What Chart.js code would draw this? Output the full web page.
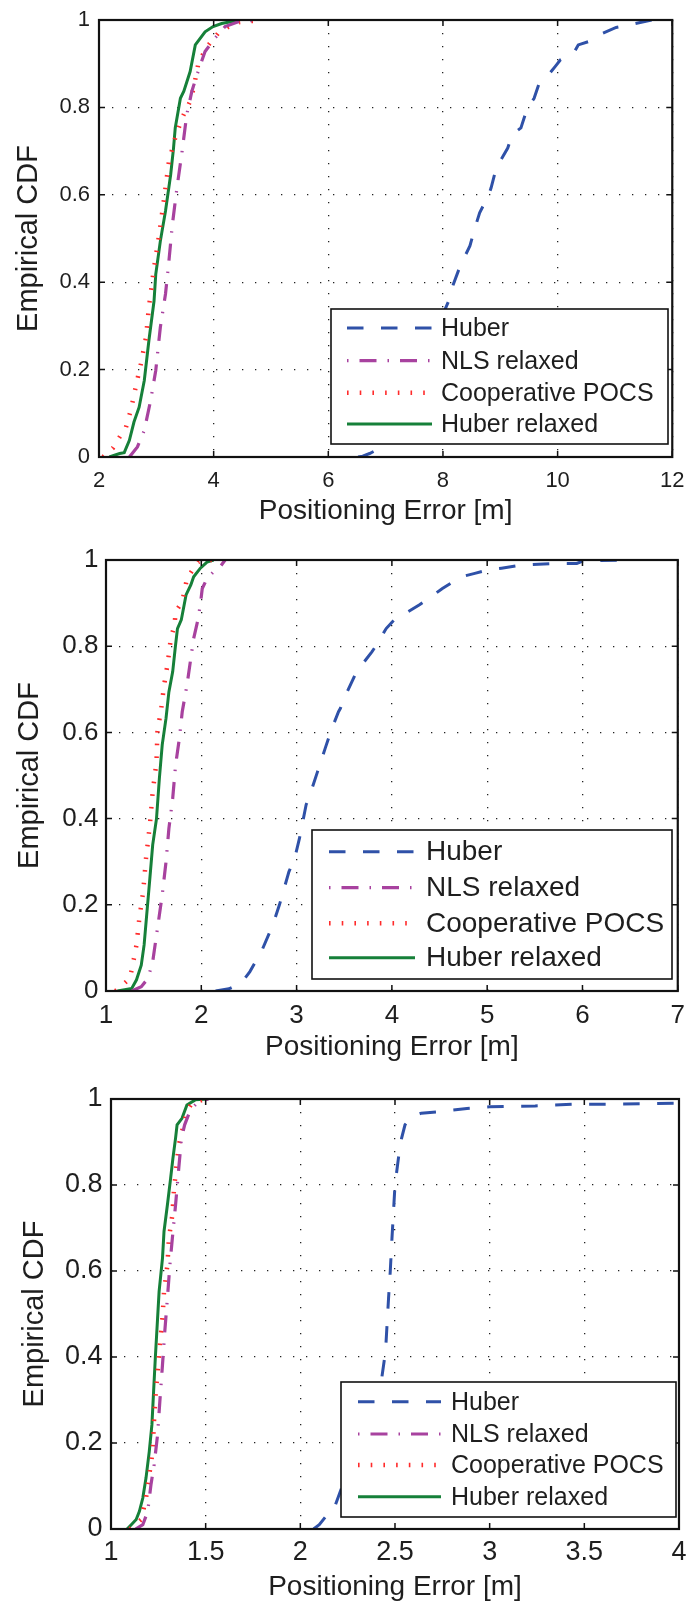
<!DOCTYPE html>
<html><head><meta charset="utf-8">
<script src="https://cdn.jsdelivr.net/npm/chart.js@4.4.1/dist/chart.umd.min.js"></script>
<style>
html,body{margin:0;padding:0;background:#fff;}
#wrap{position:relative;width:697px;height:1604px;overflow:hidden;}
canvas{position:absolute;left:0;}
</style></head><body>
<div id="wrap">
<canvas id="c1" width="697" height="530" style="top:0px"></canvas>
<canvas id="c2" width="697" height="538" style="top:530px"></canvas>
<canvas id="c3" width="697" height="536" style="top:1068px"></canvas>
</div>
<script>
// ---------- DATA ----------
const seriesLabels = ['Huber', 'NLS relaxed', 'Cooperative POCS', 'Huber relaxed'];
const xTitle = 'Positioning Error [m]';
const yTitle = 'Empirical CDF';
const yTicks = [0, 0.2, 0.4, 0.6, 0.8, 1];
const yTickLabels = ['0', '0.2', '0.4', '0.6', '0.8', '1'];

// Panel 1
const p1XTicks = [2, 4, 6, 8, 10, 12];
const p1XTickLabels = ['2', '4', '6', '8', '10', '12'];
const p1HuberX = [6.52, 6.60, 6.72, 7.01, 8.10, 8.18, 8.30, 8.47, 8.56, 8.64, 8.79, 8.84, 8.93, 9.13, 9.21, 9.36, 9.47, 9.59, 9.67, 9.82, 9.96, 10.05, 10.28, 10.36, 10.62, 10.79, 11.02, 11.19, 11.54, 11.65];
const p1HuberY = [0, 0.002, 0.008, 0.027, 0.357, 0.395, 0.437, 0.483, 0.525, 0.559, 0.597, 0.616, 0.662, 0.707, 0.738, 0.753, 0.798, 0.821, 0.852, 0.871, 0.894, 0.909, 0.924, 0.943, 0.954, 0.970, 0.983, 0.987, 0.997, 1.0];
const p1NlsX = [2.53, 2.67, 2.79, 2.90, 2.99, 3.07, 3.16, 3.22, 3.28, 3.36, 3.45, 3.53, 3.62, 3.71, 3.85, 4.02, 4.20, 4.43, 4.77];
const p1NlsY = [0, 0.023, 0.061, 0.129, 0.198, 0.297, 0.373, 0.449, 0.532, 0.616, 0.70, 0.783, 0.837, 0.875, 0.928, 0.958, 0.985, 0.996, 1.0];
const p1CoopX = [2.07, 2.24, 2.36, 2.47, 2.56, 2.64, 2.73, 2.82, 2.87, 2.96, 3.05, 3.13, 3.22, 3.33, 3.45, 3.59, 3.65, 3.74, 3.91, 4.08, 4.31, 4.45, 4.86];
const p1CoopY = [0, 0.02, 0.046, 0.068, 0.11, 0.16, 0.213, 0.274, 0.342, 0.433, 0.51, 0.586, 0.677, 0.73, 0.776, 0.814, 0.844, 0.905, 0.943, 0.97, 0.989, 0.995, 1.0];
const p1HrX = [2.18, 2.36, 2.44, 2.53, 2.61, 2.70, 2.79, 2.87, 2.96, 2.99, 3.07, 3.16, 3.25, 3.30, 3.33, 3.42, 3.48, 3.59, 3.68, 3.85, 3.99, 4.14, 4.45];
const p1HrY = [0, 0.008, 0.01, 0.038, 0.08, 0.114, 0.175, 0.266, 0.357, 0.418, 0.494, 0.563, 0.646, 0.707, 0.753, 0.821, 0.837, 0.882, 0.943, 0.973, 0.985, 0.992, 1.0];

// Panel 2
const p2XTicks = [1, 2, 3, 4, 5, 6, 7];
const p2XTickLabels = ['1', '2', '3', '4', '5', '6', '7'];
const p2HuberX = [2.15, 2.29, 2.42, 2.51, 2.63, 2.75, 2.82, 2.92, 2.98, 3.03, 3.10, 3.15, 3.22, 3.30, 3.37, 3.44, 3.46, 3.53, 3.63, 3.79, 3.84, 3.94, 4.04, 4.11, 4.29, 4.39, 4.53, 4.73, 4.87, 5.01, 5.15, 5.36, 5.70, 5.94, 6.01, 6.49];
const p2HuberY = [0, 0.005, 0.018, 0.045, 0.091, 0.153, 0.20, 0.277, 0.308, 0.354, 0.432, 0.462, 0.509, 0.563, 0.609, 0.648, 0.656, 0.694, 0.741, 0.787, 0.803, 0.841, 0.865, 0.872, 0.896, 0.911, 0.934, 0.961, 0.969, 0.977, 0.981, 0.988, 0.992, 0.992, 0.998, 1.0];
const p2NlsX = [1.27, 1.37, 1.44, 1.49, 1.54, 1.59, 1.63, 1.66, 1.70, 1.73, 1.77, 1.80, 1.85, 1.89, 1.92, 1.96, 1.99, 2.01, 2.06, 2.13, 2.20, 2.25];
const p2NlsY = [0, 0.01, 0.029, 0.068, 0.145, 0.223, 0.30, 0.377, 0.447, 0.524, 0.586, 0.648, 0.71, 0.772, 0.818, 0.857, 0.896, 0.934, 0.957, 0.973, 0.985, 1.0];
const p2CoopX = [1.10, 1.25, 1.28, 1.32, 1.35, 1.39, 1.42, 1.46, 1.49, 1.53, 1.54, 1.58, 1.61, 1.65, 1.68, 1.72, 1.73, 1.80, 1.85, 1.92, 1.97, 2.05, 2.28];
const p2CoopY = [0, 0.029, 0.06, 0.107, 0.169, 0.23, 0.308, 0.385, 0.462, 0.532, 0.602, 0.656, 0.71, 0.764, 0.818, 0.849, 0.88, 0.903, 0.957, 0.981, 0.996, 1.0, 1.0];
const p2HrX = [1.12, 1.27, 1.32, 1.37, 1.40, 1.43, 1.46, 1.49, 1.53, 1.56, 1.59, 1.63, 1.66, 1.70, 1.73, 1.75, 1.79, 1.84, 1.89, 1.92, 1.99, 2.06, 2.13];
const p2HrY = [0, 0.006, 0.026, 0.06, 0.107, 0.184, 0.261, 0.339, 0.40, 0.493, 0.571, 0.633, 0.694, 0.741, 0.803, 0.841, 0.861, 0.919, 0.942, 0.961, 0.981, 0.995, 1.0];

// Panel 3
const p3XTicks = [1, 1.5, 2, 2.5, 3, 3.5, 4];
const p3XTickLabels = ['1', '1.5', '2', '2.5', '3', '3.5', '4'];
const p3HuberX = [2.07, 2.10, 2.17, 2.18, 2.43, 2.45, 2.458, 2.466, 2.475, 2.484, 2.492, 2.50, 2.518, 2.535, 2.553, 2.587, 2.639, 2.743, 2.795, 2.88, 3.0, 3.24, 3.45, 3.66, 4.0];
const p3HuberY = [0, 0.01, 0.049, 0.05, 0.351, 0.413, 0.475, 0.537, 0.599, 0.676, 0.738, 0.80, 0.862, 0.909, 0.94, 0.959, 0.967, 0.971, 0.974, 0.978, 0.982, 0.984, 0.988, 0.988, 0.99];
const p3NlsX = [1.13, 1.168, 1.194, 1.211, 1.228, 1.246, 1.258, 1.272, 1.284, 1.298, 1.311, 1.324, 1.341, 1.358, 1.372, 1.389, 1.419, 1.462, 1.514];
const p3NlsY = [0, 0.01, 0.041, 0.103, 0.15, 0.219, 0.297, 0.382, 0.459, 0.537, 0.614, 0.676, 0.754, 0.839, 0.909, 0.94, 0.974, 0.994, 1.0];
const p3CoopX = [1.10, 1.16, 1.185, 1.20, 1.22, 1.228, 1.237, 1.25, 1.26, 1.272, 1.28, 1.298, 1.306, 1.324, 1.332, 1.344, 1.358, 1.375, 1.40, 1.427, 1.497];
const p3CoopY = [0, 0.022, 0.072, 0.119, 0.18, 0.258, 0.32, 0.382, 0.436, 0.49, 0.552, 0.614, 0.676, 0.73, 0.785, 0.839, 0.893, 0.924, 0.971, 0.99, 1.0];
const p3HrX = [1.085, 1.107, 1.133, 1.15, 1.168, 1.185, 1.202, 1.216, 1.225, 1.234, 1.246, 1.254, 1.272, 1.28, 1.298, 1.315, 1.327, 1.341, 1.349, 1.375, 1.401, 1.445, 1.514];
const p3HrY = [0, 0.01, 0.022, 0.041, 0.072, 0.119, 0.18, 0.242, 0.32, 0.397, 0.49, 0.552, 0.63, 0.692, 0.754, 0.816, 0.862, 0.909, 0.94, 0.955, 0.986, 0.998, 1.0];

// ---------- STYLE ----------
const FONT = "'Liberation Sans', Arial, Helvetica, sans-serif";
const TXT = '#1e1e1e';
const styles = [
  { color: '#2f51a8', width: 3, dash: [16.5, 17.5], legendOffset: 0 },
  { color: '#a8429f', width: 3.2, dash: [17, 11, 1.5, 11], legendOffset: 28 },
  { color: '#ff2b2b', width: 4.5, dash: [1.6, 11.1], legendOffset: 0 },
  { color: '#168039', width: 3, dash: [], legendOffset: 0 }
];

function pts(xs, ys) { return xs.map((v, i) => ({ x: v, y: ys[i] })); }

const framePlugin = {
  id: 'frame',
  afterDatasetsDraw(chart, args, opts) {
    const ctx = chart.ctx, a = chart.chartArea;
    const sx = chart.scales.x, sy = chart.scales.y;
    ctx.save();
    ctx.setLineDash([]);
    ctx.strokeStyle = '#111';
    ctx.lineWidth = 1.5;
    const tl = 6;
    ctx.beginPath();
    sx.ticks.forEach(t => {
      const p = sx.getPixelForValue(t.value);
      ctx.moveTo(p, a.bottom); ctx.lineTo(p, a.bottom - tl);
      ctx.moveTo(p, a.top); ctx.lineTo(p, a.top + tl);
    });
    sy.ticks.forEach(t => {
      const p = sy.getPixelForValue(t.value);
      ctx.moveTo(a.left, p); ctx.lineTo(a.left + tl, p);
      ctx.moveTo(a.right, p); ctx.lineTo(a.right - tl, p);
    });
    ctx.stroke();
    ctx.lineWidth = 2.2;
    ctx.strokeRect(a.left, a.top, a.right - a.left, a.bottom - a.top);

    // legend
    const L = opts.legend;
    if (L) {
      ctx.fillStyle = '#fff';
      ctx.fillRect(L.left, L.top, L.right - L.left, L.bottom - L.top);
      ctx.lineWidth = 1.6;
      ctx.strokeStyle = '#111';
      ctx.strokeRect(L.left, L.top, L.right - L.left, L.bottom - L.top);
      ctx.font = L.fontSize + 'px ' + FONT;
      ctx.textBaseline = 'middle';
      ctx.textAlign = 'left';
      chart.data.datasets.forEach((ds, i) => {
        const st = styles[i];
        const y = L.rows[i];
        ctx.save();
        ctx.strokeStyle = st.color;
        ctx.lineWidth = st.width;
        ctx.lineCap = 'butt';
        ctx.setLineDash(st.dash);
        ctx.lineDashOffset = st.legendOffset;
        ctx.beginPath();
        ctx.moveTo(L.x0, y); ctx.lineTo(L.x1, y);
        ctx.stroke();
        ctx.restore();
        ctx.fillStyle = TXT;
        ctx.fillText(ds.label, L.tx, y + 1);
      });
    }
    ctx.restore();
  }
};

function makeChart(id, cfg) {
  const datasets = cfg.series.map((s, i) => ({
    label: seriesLabels[i],
    data: pts(s[0], s[1]),
    showLine: true,
    borderColor: styles[i].color,
    borderWidth: styles[i].width,
    borderDash: styles[i].dash,
    borderCapStyle: 'butt',
    pointRadius: 0,
    fill: false,
    tension: 0
  }));
  return new Chart(document.getElementById(id), {
    type: 'scatter',
    data: { datasets },
    plugins: [framePlugin],
    options: {
      responsive: false,
      animation: false,
      devicePixelRatio: 1,
      layout: { padding: { left: 0, right: cfg.padRight, top: cfg.padTop, bottom: 0 } },
      plugins: {
        legend: { display: false },
        tooltip: { enabled: false },
        frame: { legend: cfg.legend }
      },
      scales: {
        x: {
          type: 'linear',
          min: cfg.xTicks[0],
          max: cfg.xTicks[cfg.xTicks.length - 1],
          afterBuildTicks: s => { s.ticks = cfg.xTicks.map(v => ({ value: v })); },
          afterFit: s => { s.height = cfg.xHeight; },
          ticks: {
            autoSkip: false, maxRotation: 0,
            padding: cfg.xTickPad,
            color: TXT,
            font: { family: FONT, size: cfg.tickSize, lineHeight: 1 },
            callback: (v, i) => cfg.xLabels[i]
          },
          grid: { color: '#222', lineWidth: 1.3, drawTicks: false },
          border: { display: false, dash: [1.3, 11.7] },
          title: {
            display: true, text: xTitle, color: TXT,
            font: { family: FONT, size: 28, lineHeight: 1 },
            padding: { top: 0, bottom: cfg.xTitlePad }
          }
        },
        y: {
          type: 'linear',
          min: 0, max: 1,
          afterBuildTicks: s => { s.ticks = yTicks.map(v => ({ value: v })); },
          afterFit: s => { s.width = cfg.yWidth; },
          ticks: {
            autoSkip: false,
            padding: cfg.yTickPad,
            color: TXT,
            font: { family: FONT, size: cfg.tickSize, lineHeight: 1 },
            callback: (v, i) => yTickLabels[i]
          },
          grid: { color: '#222', lineWidth: 1.3, drawTicks: false },
          border: { display: false, dash: [1.3, 11.7] },
          title: {
            display: true, text: yTitle, color: TXT,
            font: { family: FONT, size: 29, lineHeight: 1 },
            padding: { top: cfg.yTitlePad, bottom: 0 }
          }
        }
      }
    }
  });
}

makeChart('c1', {
  series: [[p1HuberX, p1HuberY], [p1NlsX, p1NlsY], [p1CoopX, p1CoopY], [p1HrX, p1HrY]],
  xTicks: p1XTicks, xLabels: p1XTickLabels,
  padTop: 18, padRight: 16, yWidth: 99, xHeight: 73,
  tickSize: 22, xTickPad: 12.5, yTickPad: 9, xTitlePad: 5, yTitlePad: 14,
  legend: { left: 331, top: 309, right: 668, bottom: 444, rows: [328, 360.7, 392.7, 424], x0: 347, x1: 432, tx: 441, fontSize: 25 }
});
makeChart('c2', {
  series: [[p2HuberX, p2HuberY], [p2NlsX, p2NlsY], [p2CoopX, p2CoopY], [p2HrX, p2HrY]],
  xTicks: p2XTicks, xLabels: p2XTickLabels,
  padTop: 30, padRight: 11, yWidth: 106, xHeight: 77,
  tickSize: 26, xTickPad: 12, yTickPad: 7.5, xTitlePad: 7, yTitlePad: 15,
  legend: { left: 312, top: 300, right: 672, bottom: 449, rows: [321.7, 357.7, 393.3, 427.7], x0: 329, x1: 415, tx: 426, fontSize: 28 }
});
makeChart('c3', {
  series: [[p3HuberX, p3HuberY], [p3NlsX, p3NlsY], [p3CoopX, p3CoopY], [p3HrX, p3HrY]],
  xTicks: p3XTicks, xLabels: p3XTickLabels,
  padTop: 31, padRight: 8, yWidth: 111, xHeight: 75,
  tickSize: 27, xTickPad: 10.5, yTickPad: 8.5, xTitlePad: 2.5, yTitlePad: 20,
  legend: { left: 341, top: 314, right: 676, bottom: 449, rows: [333.7, 366, 397, 428.7], x0: 358, x1: 441, tx: 451, fontSize: 25 }
});
</script>
</body></html>
